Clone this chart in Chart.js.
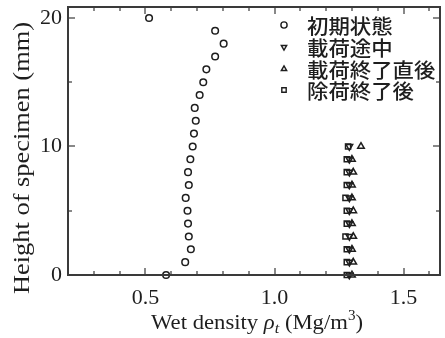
<!DOCTYPE html>
<html>
<head>
<meta charset="utf-8">
<script src="https://cdn.jsdelivr.net/npm/chart.js@4"></script>
<style>
  html, body { margin: 0; padding: 0; background: #fff; }
  #wrap { width: 445px; height: 338px; position: relative; }
</style>
</head>
<body>
<div id="wrap"><canvas id="c" width="445" height="338"></canvas></div>
<script>
// Specimen height (mm) for each measured slice
const heightsFull = [0,1,2,3,4,5,6,7,8,9,10,11,12,13,14,15,16,17,18,19,20];
const heightsLower = [0,1,2,3,4,5,6,7,8,9,10];

// Wet density (Mg/m3) per slice
const initialState = [0.58,0.654,0.676,0.668,0.665,0.663,0.656,0.668,0.665,0.674,0.683,0.688,0.695,0.691,0.71,0.724,0.736,0.77,0.803,0.77,0.514];
const duringLoading = [1.29,1.29,1.29,1.29,1.29,1.29,1.29,1.29,1.29,1.29,1.29];
const afterLoading = [1.30,1.305,1.30,1.305,1.30,1.305,1.30,1.30,1.305,1.30,1.335];
const afterUnloading = [1.28,1.28,1.28,1.275,1.28,1.28,1.275,1.28,1.28,1.28,1.285];

const seriesNames = ['初期状態','載荷途中','載荷終了直後','除荷終了後'];

const xMajorTicks = [0.5, 1.0, 1.5];
const xMinorTicks = [0.3,0.4,0.6,0.7,0.8,0.9,1.1,1.2,1.3,1.4,1.6];
const yMajorTicks = [0, 10, 20];
const yMinorTicks = [5, 15];

const INK = '#1e1e1e';
const FRAME = '#3a3a3a';
const SERIF = '"Liberation Serif", "DejaVu Serif", serif';
const CJK = '"Noto Sans CJK JP", "Noto Sans CJK SC", sans-serif';

function pts(xs, ys) { return xs.map((x, i) => ({ x: x, y: ys[i] })); }

const markerStyles = [
  { pointStyle: 'circle', rotation: 0, radius: 3.3 },
  { pointStyle: 'triangle', rotation: 180, radius: 3.8 },
  { pointStyle: 'triangle', rotation: 0, radius: 3.8 },
  { pointStyle: 'rect', rotation: 0, radius: 3.6 }
];

const seriesData = [
  pts(initialState, heightsFull),
  pts(duringLoading, heightsLower),
  pts(afterLoading, heightsLower),
  pts(afterUnloading, heightsLower)
];

const datasets = seriesData.map((d, i) => ({
  label: seriesNames[i],
  data: d,
  showLine: false,
  clip: false,
  pointStyle: markerStyles[i].pointStyle,
  rotation: markerStyles[i].rotation,
  pointRadius: markerStyles[i].radius,
  pointHoverRadius: markerStyles[i].radius,
  pointBorderWidth: 1.5,
  borderColor: INK,
  backgroundColor: 'rgba(255,255,255,0)'
}));

// Frame, inward ticks on all four sides, axis titles and legend
const decorations = {
  id: 'decorations',
  afterDatasetsDraw(chart) {
    const ctx = chart.ctx;
    const a = chart.chartArea;
    const xs = chart.scales.x, ys = chart.scales.y;
    const L = Math.round(a.left), R = Math.round(a.right);
    const T = Math.round(a.top), B = Math.round(a.bottom);
    ctx.save();
    ctx.fillStyle = FRAME;
    // box frame
    ctx.fillRect(L - 1, T - 1, R - L + 2, 2);
    ctx.fillRect(L - 1, B - 1, R - L + 2, 2);
    ctx.fillRect(L - 1, T - 1, 2, B - T + 2);
    ctx.fillRect(R - 1, T - 1, 2, B - T + 2);

    // inward ticks on every side
    const tickX = (v, len) => {
      const p = Math.round(xs.getPixelForValue(v));
      ctx.fillRect(p - 0.6, B - len, 1.2, len);
      ctx.fillRect(p - 0.6, T, 1.2, len);
    };
    const tickY = (v, len) => {
      const p = Math.round(ys.getPixelForValue(v));
      ctx.fillRect(L, p - 0.6, len, 1.2);
      ctx.fillRect(R - len, p - 0.6, len, 1.2);
    };
    xMajorTicks.forEach(v => tickX(v, 7));
    xMinorTicks.forEach(v => tickX(v, 4));
    yMajorTicks.forEach(v => tickY(v, 7));
    yMinorTicks.forEach(v => tickY(v, 4));

    // x-axis title with italic rho, subscript t and superscript 3
    ctx.fillStyle = INK;
    ctx.textBaseline = 'alphabetic';
    ctx.textAlign = 'left';
    const fs = 21;
    const parts = [
      { t: 'Wet density ', f: `${fs}px ${SERIF}`, dy: 0 },
      { t: 'ρ', f: `italic ${fs}px ${SERIF}`, dy: 0 },
      { t: 't', f: `italic ${Math.round(fs*0.7)}px ${SERIF}`, dy: 4 },
      { t: ' (Mg/m', f: `${fs}px ${SERIF}`, dy: 0 },
      { t: '3', f: `${Math.round(fs*0.65)}px ${SERIF}`, dy: -9 },
      { t: ')', f: `${fs}px ${SERIF}`, dy: 0 }
    ];
    const sx = 1.08;
    let total = 0;
    parts.forEach(p => { ctx.font = p.f; p.w = ctx.measureText(p.t).width; total += p.w; });
    ctx.save();
    ctx.translate(257 - total * sx / 2, 329);
    ctx.scale(sx, 1);
    let x = 0;
    parts.forEach(p => { ctx.font = p.f; ctx.fillText(p.t, x, p.dy); x += p.w; });
    ctx.restore();

    // y-axis title
    ctx.save();
    ctx.translate(23, 158);
    ctx.rotate(-Math.PI / 2);
    ctx.scale(1.1, 1);
    ctx.textAlign = 'center';
    ctx.textBaseline = 'middle';
    ctx.font = `24px ${SERIF}`;
    ctx.fillText('Height of specimen (mm)', 0, 0);
    ctx.restore();

    // legend
    const rows = [25, 47, 69, 90];
    ctx.textAlign = 'left';
    ctx.textBaseline = 'middle';
    rows.forEach((ry, i) => {
      ctx.strokeStyle = INK;
      ctx.fillStyle = 'rgba(255,255,255,0)';
      ctx.lineWidth = 1.4;
      Chart.helpers.drawPoint(ctx, {
        pointStyle: markerStyles[i].pointStyle,
        rotation: markerStyles[i].rotation,
        radius: 3.1,
        borderWidth: 1.4
      }, 284, ry);
      ctx.save();
      ctx.translate(307, ry + 1);
      ctx.scale(1.07, 1);
      ctx.font = `500 20px ${CJK}`;
      ctx.fillStyle = INK;
      ctx.fillText(seriesNames[i], 0, 0);
      ctx.restore();
    });
    ctx.restore();
  }
};

new Chart(document.getElementById('c'), {
  type: 'scatter',
  data: { datasets },
  plugins: [decorations],
  options: {
    responsive: false,
    animation: false,
    events: [],
    layout: { padding: { top: 7, right: 2, left: 0, bottom: 0 } },
    plugins: { legend: { display: false }, tooltip: { enabled: false } },
    scales: {
      x: {
        type: 'linear',
        min: 0.2,
        max: 1.64,
        afterFit(s) { s.height = 63; s.paddingLeft = 0; s.paddingRight = 0; },
        afterBuildTicks(s) { s.ticks = xMajorTicks.map(v => ({ value: v })); },
        grid: { display: false, drawTicks: false },
        border: { display: false },
        ticks: {
          padding: 10,
          color: INK,
          font: { family: SERIF, size: 22 },
          maxRotation: 0,
          autoSkip: false,
          callback: v => Number(v).toFixed(1)
        }
      },
      y: {
        type: 'linear',
        min: 0,
        max: 20.85,
        afterFit(s) { s.width = 68; s.paddingTop = 0; s.paddingBottom = 0; },
        afterBuildTicks(s) { s.ticks = yMajorTicks.map(v => ({ value: v })); },
        grid: { display: false, drawTicks: false },
        border: { display: false },
        ticks: {
          padding: 6,
          color: INK,
          font: { family: SERIF, size: 22 },
          autoSkip: false,
          callback: v => String(v)
        }
      }
    }
  }
});
</script>
</body>
</html>
